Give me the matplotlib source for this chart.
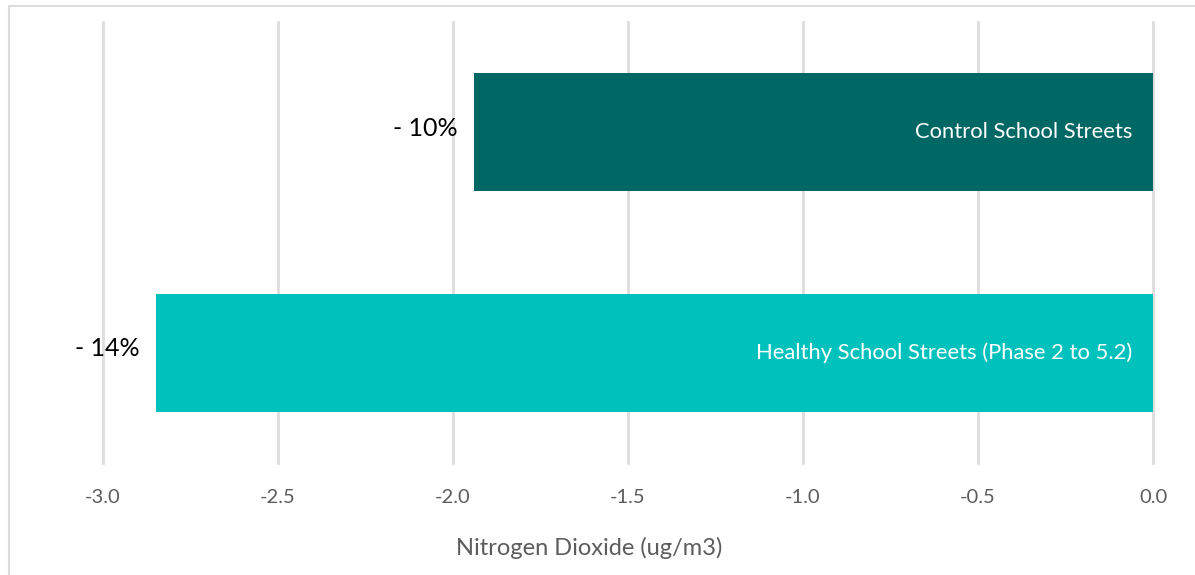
import matplotlib
matplotlib.use("Agg")
import matplotlib.pyplot as plt
from matplotlib.patches import Rectangle

categories = ["Healthy School Streets (Phase 2 to 5.2)", "Control School Streets"]
values = [-2.85, -1.94]
pct_labels = ["- 14%", "- 10%"]
colors = ["#00C1BC", "#006864"]
xticks = [-3.0, -2.5, -2.0, -1.5, -1.0, -0.5, 0.0]

plt.rcParams["font.family"] = ["Lato", "DejaVu Sans"]

W, H = 1195, 575
fig = plt.figure(figsize=(W / 100, H / 100), dpi=100)
fig.patch.set_facecolor("white")

# outer frame (open on right and bottom)
fig.add_artist(Rectangle((9 / W, -0.05), 1.2, 1.05 - 6 / H,
                         transform=fig.transFigure, fill=False,
                         edgecolor="#dcdcdc", linewidth=1.5))

ax = fig.add_axes([103 / W, 1 - 463 / H, (1153 - 103) / W, (463 - 22) / H])
ypos = list(range(len(categories)))
ax.barh(ypos, values, height=0.535, color=colors, zorder=3)

ax.set_xlim(-3.0, 0.0)
ax.set_ylim(-0.5, 1.5)
ax.set_xticks(xticks)
ax.set_xticklabels([f"{t:.1f}" for t in xticks], fontsize=14.5, color="#5c5c5c")
ax.tick_params(axis="x", length=0, pad=19)
ax.set_yticks([])
ax.grid(axis="x", color="#dddddd", linewidth=2, zorder=0)
for gl in ax.get_xgridlines():
    gl.set_clip_on(False)
ax.set_axisbelow(True)
for s in ax.spines.values():
    s.set_visible(False)
ax.margins(0)

for y, v, name, pct in zip(ypos, values, categories, pct_labels):
    ax.annotate(name, xy=(0, y), xytext=(-21, 0), textcoords="offset pixels",
                ha="right", va="center", color="white", fontsize=15.8, zorder=4)
    ax.annotate(pct, xy=(v, y), xytext=(-16, 4), textcoords="offset pixels",
                ha="right", va="center", color="black", fontsize=18, zorder=4)

fig.text(589 / W, 1 - 548 / H, "Nitrogen Dioxide (ug/m3)", fontsize=17,
         color="#5c5c5c", ha="center", va="center")

fig.savefig("out.png", dpi=100)
